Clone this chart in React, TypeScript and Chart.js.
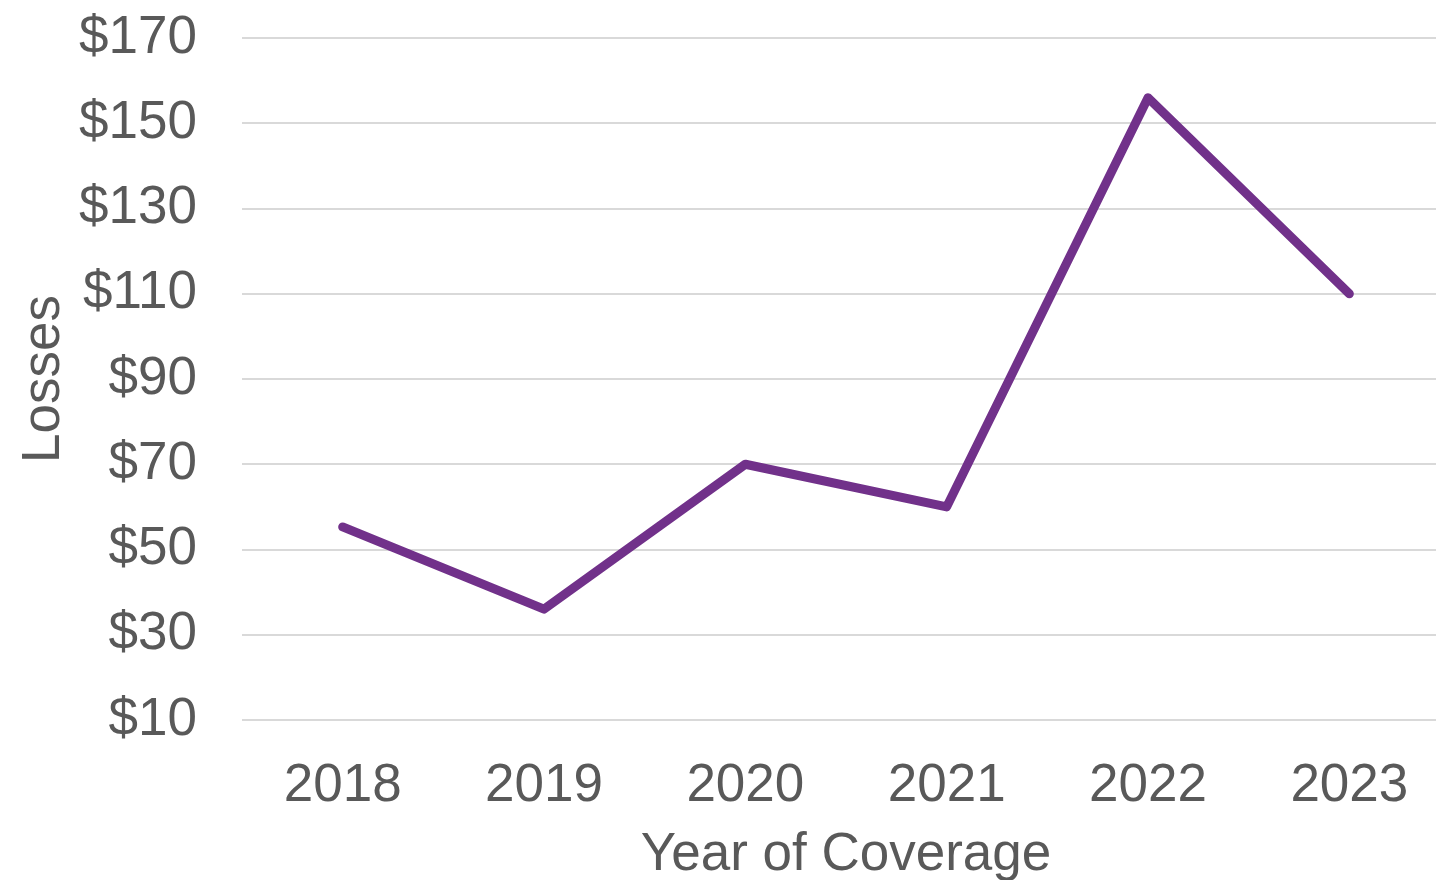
import React, { useEffect, useRef } from "react";
import { Chart, registerables } from "chart.js";

Chart.register(...registerables);

const years: string[] = ["2018", "2019", "2020", "2021", "2022", "2023"];
const losses: number[] = [55.3, 36, 70, 60, 156, 110];
const yMin = 10;
const yMax = 170;
const yStep = 20;

const FONT = "'Liberation Sans', Arial, sans-serif";
const TEXT = "#595959";
const FS = 53;

export default function App() {
  const ref = useRef<HTMLCanvasElement | null>(null);

  useEffect(() => {
    if (!ref.current) return;
    const chart = new Chart(ref.current, {
      type: "line",
      data: {
        labels: years,
        datasets: [
          {
            label: "Losses",
            data: losses,
            borderColor: "#71318A",
            borderWidth: 9,
            borderCapStyle: "round",
            borderJoinStyle: "round",
            pointRadius: 0,
            tension: 0,
            fill: false,
          },
        ],
      },
      options: {
        responsive: false,
        animation: false,
        layout: { padding: { top: 38, right: 0, left: 0, bottom: 0 } },
        plugins: { legend: { display: false }, tooltip: { enabled: false } },
        scales: {
          x: {
            offset: true,
            grid: { display: false, drawTicks: false },
            border: { display: false },
            ticks: {
              color: TEXT,
              font: { family: FONT, size: FS },
              padding: 35,
              maxRotation: 0,
            },
            title: {
              display: true,
              text: "Year of Coverage",
              color: TEXT,
              font: { family: FONT, size: FS },
              padding: { top: 0, bottom: 0 },
            },
            afterFit: (s: any) => {
              s.height = 167;
              s.paddingLeft = 0;
              s.paddingRight = 0;
            },
          },
          y: {
            min: yMin,
            max: yMax,
            grid: { color: "#D9D9D9", lineWidth: 2, drawTicks: false },
            border: { display: false },
            ticks: {
              stepSize: yStep,
              color: TEXT,
              font: { family: FONT, size: FS },
              padding: 45,
              callback: (v: any) => "$" + v,
            },
            title: {
              display: true,
              text: "Losses",
              color: TEXT,
              font: { family: FONT, size: FS },
              padding: { top: 13, bottom: 0 },
            },
            afterFit: (s: any) => {
              s.width = 242;
              s.paddingTop = 0;
              s.paddingBottom = 0;
            },
          },
        },
      },
    });
    return () => chart.destroy();
  }, []);

  return (
    <div
      style={{
        position: "fixed",
        left: 0,
        top: 0,
        width: 1436,
        height: 880,
        overflow: "hidden",
        background: "#fff",
      }}
    >
      <canvas ref={ref} width={1450} height={887} style={{ display: "block" }} />
    </div>
  );
}
